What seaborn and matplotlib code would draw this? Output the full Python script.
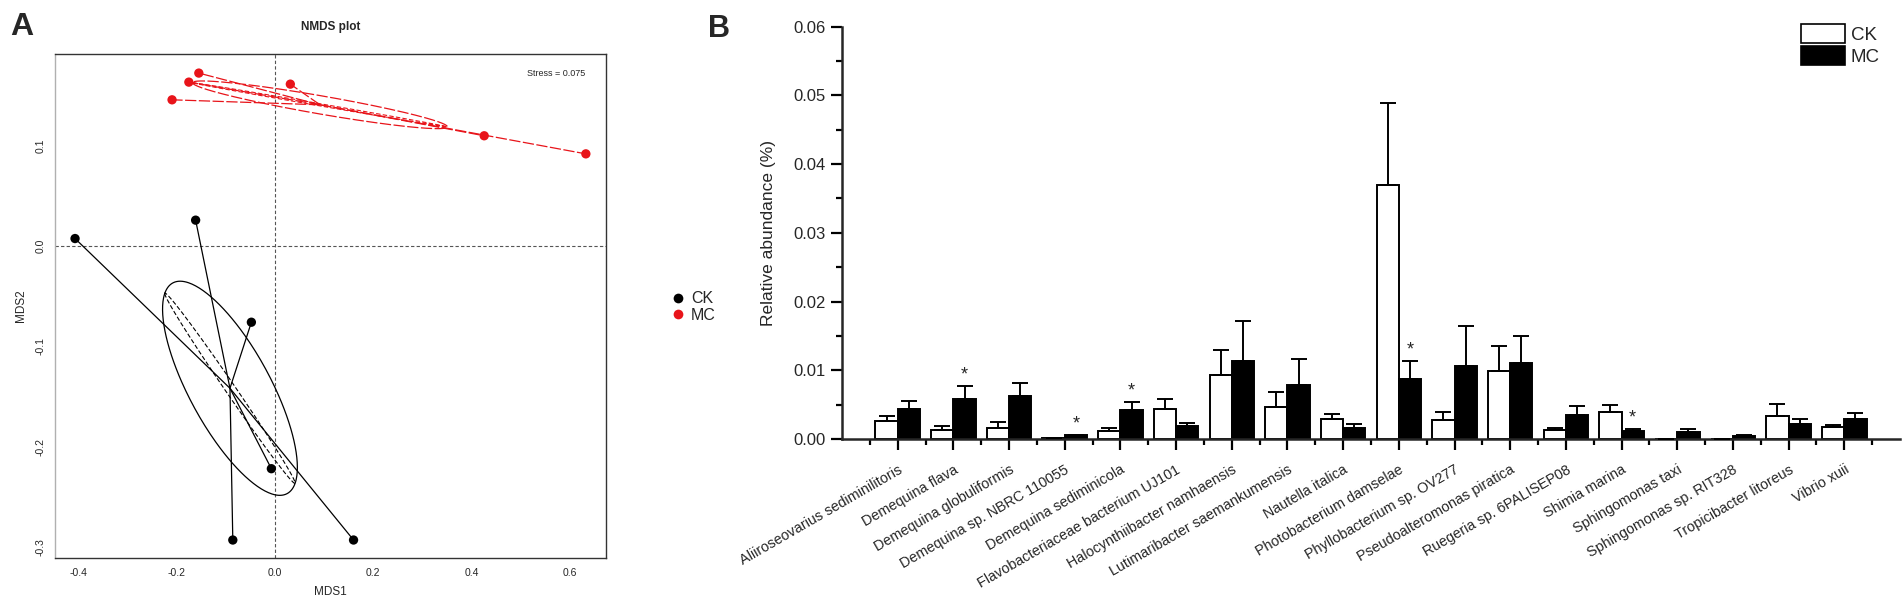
import numpy as np
import pandas as pd
import matplotlib
matplotlib.use("Agg")
import matplotlib.pyplot as plt
import seaborn as sns
from matplotlib.lines import Line2D
from matplotlib.patches import Patch
from matplotlib.ticker import FixedLocator, MultipleLocator, FormatStrFormatter

# ---------------- Panel A data (NMDS) ----------------
ck_mds1 = [-0.407, -0.1615, -0.048, -0.0073, -0.0858, 0.160]
ck_mds2 = [0.0073, 0.0256, -0.076, -0.2218, -0.2928, -0.2928]
mc_mds1 = [-0.155, -0.1753, -0.2095, 0.0313, 0.426, 0.633]
mc_mds2 = [0.172, 0.163, 0.1454, 0.161, 0.1096, 0.0916]
stress = 0.075

# ---------------- Panel B data (relative abundance) ----------------
species = [
    "Aliiroseovarius sediminilitoris", "Demequina flava", "Demequina globuliformis",
    "Demequina sp. NBRC 110055", "Demequina sediminicola", "Flavobacteriaceae bacterium UJ101",
    "Halocynthiibacter namhaensis", "Lutimaribacter saemankumensis", "Nautella italica",
    "Photobacterium damselae", "Phyllobacterium sp. OV277", "Pseudoalteromonas piratica",
    "Ruegeria sp. 6PALISEP08", "Shimia marina", "Sphingomonas taxi",
    "Sphingomonas sp. RIT328", "Tropicibacter litoreus", "Vibrio xuii",
]
ck_mean = [0.00266, 0.00127, 0.00165, 0.0001, 0.00112, 0.00441, 0.00927, 0.00461, 0.00287,
           0.03693, 0.00272, 0.0099, 0.00131, 0.00389, 0.00006, 0.0, 0.0033, 0.00179]
ck_err = [0.00074, 0.00067, 0.00085, 0.0, 0.00053, 0.00137, 0.00363, 0.00219, 0.00073,
          0.01197, 0.00125, 0.00364, 0.00025, 0.00111, 0.0, 0.0, 0.0018, 0.00021]
mc_mean = [0.00437, 0.00582, 0.00626, 0.00054, 0.00422, 0.00194, 0.01135, 0.00786, 0.0016,
           0.00873, 0.01067, 0.01106, 0.0035, 0.00121, 0.00102, 0.00049, 0.00223, 0.00287]
mc_err = [0.00116, 0.00189, 0.00184, 0.00006, 0.00121, 0.00043, 0.00578, 0.00374, 0.00058,
          0.00262, 0.00573, 0.00394, 0.00126, 0.00029, 0.00038, 0.00014, 0.00073, 0.00087]
significant = ["Demequina flava", "Demequina sp. NBRC 110055", "Demequina sediminicola",
               "Photobacterium damselae", "Shimia marina"]
groups = ["CK", "MC"]

sns.set_style("ticks")
plt.rcParams["font.family"] = ["Liberation Sans", "DejaVu Sans"]

W, H = 1904, 596
fig = plt.figure(figsize=(W / 100, H / 100), dpi=100)

def fr(x0, y0, x1, y1):
    return [x0 / W, 1 - y1 / H, (x1 - x0) / W, (y1 - y0) / H]

# ================= Panel A =================
axA = fig.add_axes(fr(55.4, 54, 606, 558.3))
dfA = pd.DataFrame({
    "MDS1": ck_mds1 + mc_mds1,
    "MDS2": ck_mds2 + mc_mds2,
    "group": ["CK"] * len(ck_mds1) + ["MC"] * len(mc_mds1),
})
pal_pts = {"CK": "black", "MC": "#e8141a"}

axA.axhline(0, color="#555555", lw=0.8, ls=(0, (3, 2)), zorder=1)
axA.axvline(0, color="#555555", lw=0.8, ls=(0, (3, 2)), zorder=1)


def ellipse(x, y, scale, minor_scale=1.0):
    x = np.asarray(x); y = np.asarray(y)
    cov = np.cov(x, y)
    vals, vecs = np.linalg.eigh(cov)
    t = np.linspace(0, 2 * np.pi, 300)
    circ = np.vstack([np.cos(t) * np.sqrt(vals[1]) * scale,
                      np.sin(t) * np.sqrt(vals[0]) * scale * minor_scale])
    pts = vecs[:, [1, 0]] @ circ
    return pts[0] + x.mean(), pts[1] + y.mean()


for g, xs, ys, ls in [("CK", ck_mds1, ck_mds2, "-"), ("MC", mc_mds1, mc_mds2, (0, (9, 2)))]:
    col = pal_pts[g]
    cx, cy = np.mean(xs), np.mean(ys)
    for px, py in zip(xs, ys):
        axA.plot([cx, px], [cy, py], color=col, lw=0.9, ls=ls, zorder=2)
    ex, ey = ellipse(xs, ys, 0.73)
    axA.plot(ex, ey, color=col, lw=0.9, ls=ls, zorder=2)
    ex2, ey2 = ellipse(xs, ys, 0.73, 0.12)
    axA.plot(ex2, ey2, color=col, lw=0.8, ls=(0, (4, 2)), zorder=2)

sns.scatterplot(data=dfA, x="MDS1", y="MDS2", hue="group", palette=pal_pts, s=45,
                edgecolor="none", legend=False, ax=axA, zorder=5)

axA.set_xlim(-0.447, 0.674)
axA.set_ylim(-0.311, 0.191)
axA.set_xticks([-0.4, -0.2, 0.0, 0.2, 0.4, 0.6])
axA.set_xticklabels(["-0.4", "-0.2", "0.0", "0.2", "0.4", "0.6"])
axA.set_yticks([-0.3, -0.2, -0.1, 0.0, 0.1])
axA.set_yticklabels(["-0.3", "-0.2", "-0.1", "0.0", "0.1"], rotation=90, va="center")
axA.tick_params(axis="both", length=0, labelsize=7.5, pad=7)
axA.set_xlabel("MDS1", fontsize=8.5, labelpad=6)
axA.set_ylabel("MDS2", fontsize=8.5, labelpad=6)
axA.set_title("NMDS plot", fontsize=8.5, fontweight="bold", pad=17)
for s in ["top", "right", "bottom"]:
    axA.spines[s].set_color("#333333")
    axA.spines[s].set_linewidth(1.0)
axA.spines["left"].set_color("#b0b0b0")
axA.spines["left"].set_linewidth(1.0)
axA.text(0.962, 0.962, f"Stress = {stress}", transform=axA.transAxes,
         ha="right", va="center", fontsize=6.5)

legA = [Line2D([0], [0], marker="o", color="none", markerfacecolor=pal_pts[g],
               markeredgecolor="none", markersize=7, label=g) for g in groups]
fig.legend(handles=legA, loc="center left", bbox_to_anchor=(664 / W, 1 - 307 / H),
           frameon=False, fontsize=11.5, handlelength=0.8, handletextpad=0.4,
           labelspacing=0.1, borderpad=0)

fig.text(10 / W, 1 - 12 / H, "A", fontsize=23, fontweight="bold", va="top", ha="left")

# ================= Panel B =================
axB = fig.add_axes(fr(842, 26.7, 1900, 439))
dfB = pd.DataFrame({
    "species": species * 2,
    "value": ck_mean + mc_mean,
    "group": ["CK"] * len(species) + ["MC"] * len(species),
})
pal_bar = {"CK": "white", "MC": "black"}
sns.barplot(data=dfB, x="species", y="value", hue="group", order=species,
            hue_order=groups, palette=pal_bar, saturation=1, width=0.8,
            edgecolor="black", linewidth=1.4, errorbar=None, legend=False, ax=axB)

err_map = {"CK": (ck_mean, ck_err), "MC": (mc_mean, mc_err)}
for g, cont in zip(groups, axB.containers):
    means, errs = err_map[g]
    xs = [p.get_x() + p.get_width() / 2 for p in cont]
    axB.errorbar(xs, means, yerr=[np.zeros(len(errs)), errs], fmt="none",
                 ecolor="black", elinewidth=1.4, capsize=5.5, capthick=1.4, zorder=3)
    if g == "MC":
        for i, sp in enumerate(species):
            if sp in significant:
                axB.text(xs[i], means[i] + errs[i] + 0.0016, "*", ha="center",
                         va="center", fontsize=13)

axB.set_xlim(-1, 18)
axB.set_ylim(0, 0.06)
axB.yaxis.set_major_locator(MultipleLocator(0.01))
axB.yaxis.set_minor_locator(MultipleLocator(0.005))
axB.yaxis.set_major_formatter(FormatStrFormatter("%.2f"))
axB.xaxis.set_minor_locator(FixedLocator(np.arange(-0.5, 18, 1)))
axB.tick_params(axis="both", which="major", length=8, width=1.6, direction="out",
                color="black")
axB.tick_params(axis="both", which="minor", length=4, width=1.6, direction="out",
                color="black")
axB.tick_params(axis="y", labelsize=12, pad=4)
axB.tick_params(axis="x", labelsize=10.4, pad=9)
axB.set_xticks(range(len(species)))
axB.set_xticklabels(species, rotation=30, ha="right", va="top", rotation_mode="anchor")
axB.set_xlabel("")
axB.set_ylabel("Relative abundance (%)", fontsize=12.5, labelpad=12)
sns.despine(ax=axB)
axB.spines["left"].set_linewidth(1.8)
axB.spines["bottom"].set_linewidth(1.8)

legB = [Patch(facecolor=pal_bar[g], edgecolor="black", linewidth=1.2, label=g) for g in groups]
axB.legend(handles=legB, loc="upper left", bbox_to_anchor=(1801 / W, 1 - 24 / H),
           bbox_transform=fig.transFigure, frameon=False, fontsize=13.5,
           handlelength=2.35, handleheight=1.15, handletextpad=0.3,
           labelspacing=0.12, borderpad=0, borderaxespad=0)

fig.text(708 / W, 1 - 14 / H, "B", fontsize=22, fontweight="bold", va="top", ha="left")

fig.savefig("out.png", dpi=100)
